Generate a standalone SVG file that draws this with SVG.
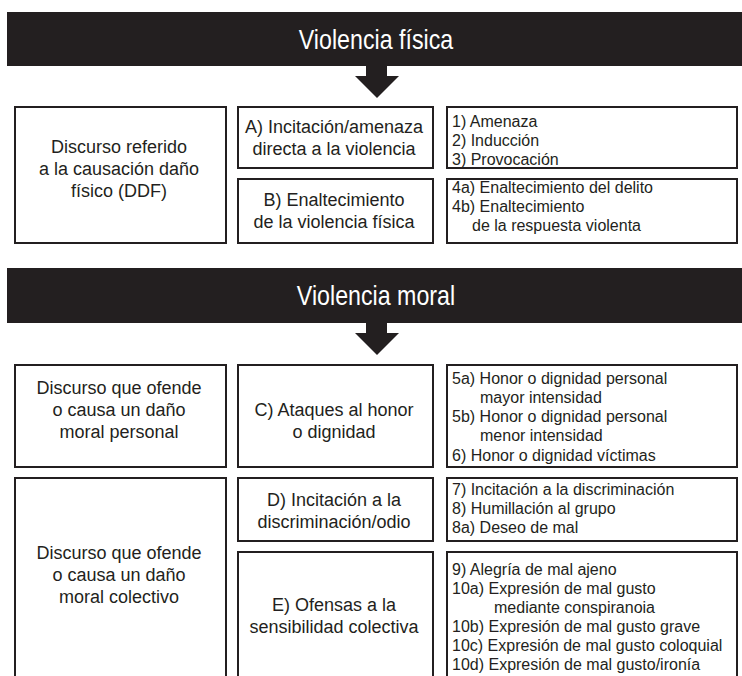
<svg xmlns="http://www.w3.org/2000/svg" width="742" height="676" viewBox="0 0 742 676">
<style>
.bar{fill:#231f20}
.box{fill:#fff;stroke:#231f20;stroke-width:2}
.title{font-family:"Liberation Sans",Arial,sans-serif;font-size:27px;fill:#fff;text-anchor:middle}
.ct{font-family:"Liberation Sans",Arial,sans-serif;font-size:18px;fill:#231f20;text-anchor:middle}
.lt{font-family:"Liberation Sans",Arial,sans-serif;font-size:16px;fill:#231f20}
.arrow{fill:#231f20}
</style>
<rect width="742" height="676" fill="#fff"/>
<g id="bar-fisica">
<rect class="bar" x="7" y="12" width="740" height="54"/>
<text class="title" transform="translate(376,49) scale(0.86,1)">Violencia física</text>
</g>
<g id="bar-moral">
<rect class="bar" x="7" y="268" width="740" height="55"/>
<text class="title" transform="translate(376,305) scale(0.86,1)">Violencia moral</text>
</g>
<g id="connectors">
<polygon class="arrow" points="366,65 387,65 387,76 399,76 377,98 355,76 366,76"/>
<polygon class="arrow" points="366,322 387,322 387,333 399,333 377,355 355,333 366,333"/>
</g>
<g id="ddf">
<rect class="box" x="15" y="107" width="211" height="136"/>
<text class="ct" x="119" y="153">Discurso referido</text>
<text class="ct" x="119" y="175">a la causación daño</text>
<text class="ct" x="119" y="197">físico (DDF)</text>
</g>
<g id="node-a">
<rect class="box" x="238" y="107" width="195" height="61"/>
<text class="ct" x="334" y="133">A) Incitación/amenaza</text>
<text class="ct" x="334" y="155">directa a la violencia</text>
</g>
<g id="list-a">
<rect class="box" x="447" y="107" width="290" height="61"/>
<text class="lt" x="452" y="127">1) Amenaza</text>
<text class="lt" x="452" y="146">2) Inducción</text>
<text class="lt" x="452" y="165">3) Provocación</text>
</g>
<g id="node-b">
<rect class="box" x="238" y="179" width="195" height="64"/>
<text class="ct" x="334" y="206">B) Enaltecimiento</text>
<text class="ct" x="334" y="228">de la violencia física</text>
</g>
<g id="list-b">
<rect class="box" x="447" y="179" width="290" height="64"/>
<text class="lt" x="452" y="193">4a) Enaltecimiento del delito</text>
<text class="lt" x="452" y="212">4b) Enaltecimiento</text>
<text class="lt" x="472" y="231">de la respuesta violenta</text>
</g>
<g id="moral-personal">
<rect class="box" x="15" y="365" width="211" height="102"/>
<text class="ct" x="119" y="394">Discurso que ofende</text>
<text class="ct" x="119" y="416">o causa un daño</text>
<text class="ct" x="119" y="438">moral personal</text>
</g>
<g id="node-c">
<rect class="box" x="238" y="365" width="195" height="102"/>
<text class="ct" x="334" y="416">C) Ataques al honor</text>
<text class="ct" x="334" y="438">o dignidad</text>
</g>
<g id="list-c">
<rect class="box" x="447" y="365" width="290" height="102"/>
<text class="lt" x="452" y="384">5a) Honor o dignidad personal</text>
<text class="lt" x="480" y="403">mayor intensidad</text>
<text class="lt" x="452" y="422">5b) Honor o dignidad personal</text>
<text class="lt" x="480" y="441">menor intensidad</text>
<text class="lt" x="452" y="461">6) Honor o dignidad víctimas</text>
</g>
<g id="moral-colectivo">
<rect class="box" x="15" y="478" width="211" height="215"/>
<text class="ct" x="119" y="559">Discurso que ofende</text>
<text class="ct" x="119" y="581">o causa un daño</text>
<text class="ct" x="119" y="603">moral colectivo</text>
</g>
<g id="node-d">
<rect class="box" x="238" y="478" width="195" height="63"/>
<text class="ct" x="334" y="506">D) Incitación a la</text>
<text class="ct" x="334" y="528">discriminación/odio</text>
</g>
<g id="list-d">
<rect class="box" x="447" y="478" width="290" height="63"/>
<text class="lt" x="452" y="495">7) Incitación a la discriminación</text>
<text class="lt" x="452" y="514">8) Humillación al grupo</text>
<text class="lt" x="452" y="533">8a) Deseo de mal</text>
</g>
<g id="node-e">
<rect class="box" x="238" y="552" width="195" height="141"/>
<text class="ct" x="334" y="611">E) Ofensas a la</text>
<text class="ct" x="334" y="633">sensibilidad colectiva</text>
</g>
<g id="list-e">
<rect class="box" x="447" y="552" width="290" height="141"/>
<text class="lt" x="452" y="575">9) Alegría de mal ajeno</text>
<text class="lt" x="452" y="594">10a) Expresión de mal gusto</text>
<text class="lt" x="494" y="613">mediante conspiranoia</text>
<text class="lt" x="452" y="632">10b) Expresión de mal gusto grave</text>
<text class="lt" x="452" y="651">10c) Expresión de mal gusto coloquial</text>
<text class="lt" x="452" y="670">10d) Expresión de mal gusto/ironía</text>
</g>
</svg>
